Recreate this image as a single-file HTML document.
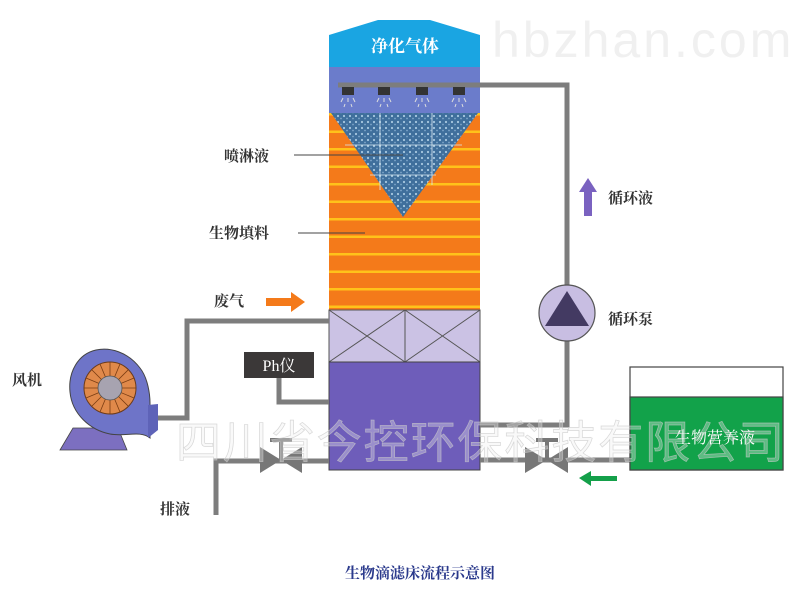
<!DOCTYPE html>
<html><head><meta charset="utf-8"><style>
html,body{margin:0;padding:0;background:#fff;}
svg{display:block}
text{font-family:"Liberation Serif","Noto Serif CJK SC",serif;}
</style></head><body>
<svg width="800" height="594" viewBox="0 0 800 594" xmlns="http://www.w3.org/2000/svg">
<defs>
<pattern id="str" x="0" y="113" width="10" height="17.5" patternUnits="userSpaceOnUse">
<rect width="10" height="17.5" fill="#F47A1A"/><rect y="0" width="10" height="2.5" fill="#FFC21A"/>
</pattern>
<pattern id="dots" width="6" height="6" patternUnits="userSpaceOnUse">
<rect width="6" height="6" fill="#3F6F9C"/><circle cx="2" cy="2" r="1.1" fill="#A8C8E0"/><circle cx="5" cy="4.5" r="0.9" fill="#7FA6CA"/>
</pattern>
</defs>
<text x="492" y="57" font-size="50" fill="#f0f0f0" letter-spacing="3" style="font-family:'Liberation Sans',sans-serif">hbzhan.com</text>

<polygon points="329,35 378,20 430,20 480,35 480,67 329,67" fill="#1AA5E2"/>
<text x="405" y="52" font-size="17" fill="#fff" text-anchor="middle" font-weight="bold">净化气体</text>
<rect x="329" y="67" width="151" height="46" fill="#6B7CCB"/>
<rect x="329" y="113" width="151" height="197" fill="url(#str)"/>
<polygon points="331,113 478,113 403,217" fill="url(#dots)"/>
<line x1="380" y1="113" x2="380" y2="190" stroke="#d8e8f0" stroke-width="0.8"/>
<line x1="432" y1="113" x2="432" y2="185" stroke="#d8e8f0" stroke-width="0.8"/>
<line x1="345" y1="145" x2="462" y2="145" stroke="#d8e8f0" stroke-width="0.8"/>
<line x1="370" y1="175" x2="436" y2="175" stroke="#d8e8f0" stroke-width="0.8"/>
<rect x="329" y="310" width="151" height="52" fill="#CBC2E4" stroke="#555" stroke-width="1"/>
<line x1="405" y1="310" x2="405" y2="362" stroke="#555"/>
<path d="M329,310 L405,362 M405,310 L329,362 M405,310 L480,362 M480,310 L405,362" stroke="#555" stroke-width="1"/>
<rect x="329" y="362" width="151" height="108" fill="#6E5DBA" stroke="#444" stroke-width="1"/>
<path d="M338,85 H567 V286" fill="none" stroke="#7d7d7d" stroke-width="5"/>
<g fill="#333">
<rect x="342" y="87" width="12" height="8"/><rect x="378" y="87" width="12" height="8"/><rect x="416" y="87" width="12" height="8"/><rect x="453" y="87" width="12" height="8"/>
</g>
<g stroke="#ddd" stroke-width="1">
<path d="M343,98 l-2,4 M348,98 v4 M353,98 l2,4 M345,104 l-1,3 M351,104 l1,3"/>
<path d="M379,98 l-2,4 M384,98 v4 M389,98 l2,4 M381,104 l-1,3 M387,104 l1,3"/>
<path d="M417,98 l-2,4 M422,98 v4 M427,98 l2,4 M419,104 l-1,3 M425,104 l1,3"/>
<path d="M454,98 l-2,4 M459,98 v4 M464,98 l2,4 M456,104 l-1,3 M462,104 l1,3"/>
</g>
<path d="M567,340 V425 H480" fill="none" stroke="#7d7d7d" stroke-width="5"/>
<circle cx="567" cy="313" r="28" fill="#C8BEE2" stroke="#555" stroke-width="1.2"/>
<polygon points="567,291 589,326 545,326" fill="#433A62"/>
<path d="M480,460 H632" fill="none" stroke="#7d7d7d" stroke-width="5"/>
<polygon points="525,447 547,460 525,473" fill="#777"/><polygon points="568,447 547,460 568,473" fill="#777"/>
<rect x="545" y="440" width="4" height="20" fill="#777"/><rect x="536" y="438" width="22" height="4" fill="#777"/>
<rect x="630" y="367" width="153" height="103" fill="#fff" stroke="#444" stroke-width="1.2"/>
<rect x="630" y="397" width="153" height="73" fill="#12A24A" stroke="#444" stroke-width="1.2"/>
<text x="715" y="443" font-size="16" fill="#fff" text-anchor="middle">生物营养液</text>
<polygon points="579,478 591,471 591,476 617,476 617,481 591,481 591,486" fill="#14A04A"/>
<path d="M150,418 H187 V321 H329" fill="none" stroke="#7d7d7d" stroke-width="5"/>
<path d="M279,376 V402 H329" fill="none" stroke="#7d7d7d" stroke-width="5"/>
<rect x="244" y="352" width="70" height="26" fill="#3b3838"/>
<text x="279" y="371" font-size="16" fill="#fff" text-anchor="middle">Ph仪</text>
<path d="M216,515 V461 H329" fill="none" stroke="#7d7d7d" stroke-width="5"/>
<polygon points="260,447 281,460 260,473" fill="#777"/><polygon points="302,447 281,460 302,473" fill="#777"/>
<rect x="279" y="440" width="4" height="20" fill="#777"/><rect x="270" y="438" width="22" height="4" fill="#777"/>
<polygon points="60,450 73,428 118,428 127,450" fill="#7C6FC0" stroke="#444" stroke-width="0.8"/>
<path d="M150,403 C150,395 148,378 140,368 C128,352 110,347 96,350 C78,354 68,372 70,392 C72,414 90,430 110,434 C125,437 140,430 150,438 Z" fill="#6E74C8" stroke="#444" stroke-width="1"/>
<path d="M148,405 L158,404 L158,430 L148,438 Z" fill="#5E63B8"/>
<circle cx="110" cy="388" r="26" fill="#E0894A" stroke="#6b3a1a" stroke-width="1"/>
<g stroke="#7a3c12" stroke-width="0.8">
<path d="M110,388 l0,-26 M110,388 l10,-24 M110,388 l18,-18 M110,388 l24,-10 M110,388 l26,0 M110,388 l24,10 M110,388 l18,18 M110,388 l10,24 M110,388 l0,26 M110,388 l-10,24 M110,388 l-18,18 M110,388 l-24,10 M110,388 l-26,0 M110,388 l-24,-10 M110,388 l-18,-18 M110,388 l-10,-24"/>
</g>
<circle cx="110" cy="388" r="12" fill="#A7A3B0" stroke="#555" stroke-width="0.8"/>
<polygon points="588,178 597,192 592,192 592,216 584,216 584,192 579,192" fill="#7A62C0"/>
<polygon points="305,302 291,292 291,298 266,298 266,306 291,306 291,312" fill="#F47A1A"/>
<line x1="294" y1="155" x2="403" y2="155" stroke="#444" stroke-width="1"/>
<line x1="298" y1="233" x2="365" y2="233" stroke="#444" stroke-width="1"/>
<g font-size="15" fill="#333" font-weight="bold">
<text x="224" y="161">喷淋液</text>
<text x="209" y="238">生物填料</text>
<text x="214" y="306">废气</text>
<text x="12" y="385">风机</text>
<text x="160" y="514">排液</text>
<text x="608" y="203">循环液</text>
<text x="608" y="324">循环泵</text>
</g>
<text x="420" y="578" font-size="15" fill="#2B3A8C" text-anchor="middle" font-weight="bold">生物滴滤床流程示意图</text>
<text x="176" y="458" font-size="45" fill="#eeeeee" fill-opacity="0.35" stroke="#c8c8c8" stroke-width="0.7" stroke-opacity="0.7" style="font-family:'Liberation Sans','Noto Sans CJK SC',sans-serif" textLength="608">四川省今控环保科技有限公司</text>
</svg>
</body></html>
